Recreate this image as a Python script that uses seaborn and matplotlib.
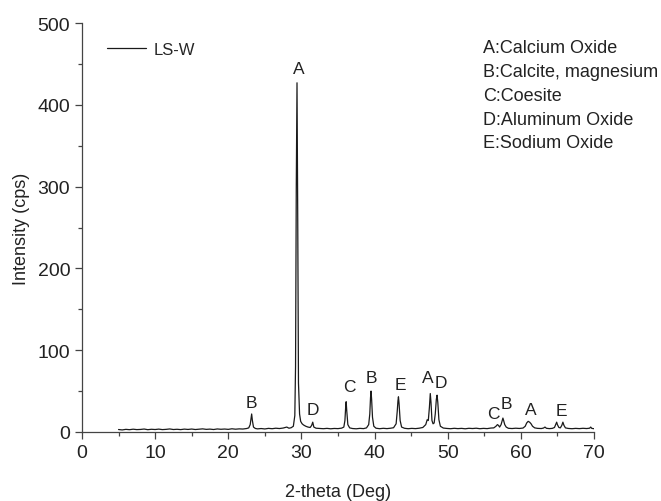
import numpy as np
import pandas as pd
import matplotlib
matplotlib.use("Agg")
import matplotlib.pyplot as plt
import seaborn as sns
from matplotlib.ticker import MultipleLocator

# XRD-профиль LS-W
two_theta = [
    5.0, 5.5, 6.0, 6.5, 7.0, 7.5, 8.0, 8.5, 9.0, 9.5, 10.0, 10.5, 11.0, 11.5, 12.0, 12.5,
    13.0, 13.5, 14.0, 14.5, 15.0, 15.5, 16.0, 16.5, 17.0, 17.5, 18.0, 18.5, 19.0, 19.5,
    20.0, 20.5, 21.0, 21.5, 22.0, 22.5, 22.8, 23.0, 23.1, 23.2, 23.3, 23.45, 23.7, 24.0,
    24.5, 25.0, 25.5, 26.0, 26.5, 27.0, 27.5, 28.0, 28.3, 28.6, 28.9, 29.1, 29.2, 29.3,
    29.4, 29.5, 29.6, 29.75, 29.9, 30.1, 30.3, 30.6, 30.9, 31.2, 31.4, 31.55, 31.7, 32.0,
    32.5, 33.0, 33.5, 34.0, 34.5, 35.0, 35.5, 35.8, 35.95, 36.05, 36.12, 36.2, 36.35, 36.6,
    37.0, 37.5, 38.0, 38.5, 38.9, 39.2, 39.35, 39.45, 39.52, 39.6, 39.72, 39.9, 40.2, 40.7,
    41.2, 41.7, 42.2, 42.6, 42.95, 43.1, 43.2, 43.27, 43.35, 43.5, 43.7, 44.1, 44.6, 45.1,
    45.6, 46.1, 46.6, 47.0, 47.2, 47.35, 47.5, 47.62, 47.72, 47.85, 48.0, 48.15, 48.3, 48.45,
    48.55, 48.65, 48.8, 49.0, 49.4, 49.9, 50.4, 50.9, 51.4, 51.9, 52.4, 52.9, 53.4, 53.9,
    54.4, 54.9, 55.4, 55.9, 56.3, 56.6, 56.8, 56.95, 57.1, 57.3, 57.45, 57.55, 57.65, 57.8,
    58.0, 58.3, 58.8, 59.3, 59.8, 60.3, 60.6, 60.8, 61.0, 61.2, 61.4, 61.6, 61.9, 62.3,
    62.8, 63.1, 63.3, 63.5, 63.9, 64.3, 64.6, 64.8, 64.9, 65.0, 65.2, 65.4, 65.6, 65.75,
    65.9, 66.1, 66.5, 67.0, 67.5, 68.0, 68.5, 69.0, 69.4, 69.55, 69.7, 70.0,
]
intensity = [
    3.0, 2.5, 3.2, 2.8, 3.4, 2.9, 3.1, 3.6, 2.8, 3.3, 3.0, 3.5, 2.9, 3.2, 3.7, 3.0,
    3.3, 2.9, 3.5, 3.1, 3.6, 3.0, 3.4, 3.8, 3.2, 3.5, 3.0, 3.7, 3.3, 3.6,
    3.2, 3.9, 3.4, 3.8, 3.6, 4.2, 5.0, 9.0, 16.0, 22.0, 14.0, 6.0, 4.3, 3.8,
    4.2, 3.7, 4.4, 4.0, 4.6, 4.2, 4.8, 6.0, 4.6, 5.2, 7.0, 20.0, 80.0, 300.0,
    427.0, 260.0, 60.0, 22.0, 13.0, 10.0, 8.5, 7.0, 6.0, 5.5, 8.0, 12.0, 6.0, 4.6,
    4.3, 4.0, 4.4, 3.9, 4.3, 4.1, 4.7, 6.0, 14.0, 30.0, 37.0, 26.0, 9.0, 5.0,
    4.2, 3.9, 4.4, 4.1, 5.0, 9.0, 22.0, 42.0, 50.0, 40.0, 18.0, 7.0, 4.6, 4.0,
    4.5, 4.1, 4.6, 5.2, 10.0, 25.0, 38.0, 43.0, 35.0, 14.0, 6.0, 4.5, 4.0, 4.4,
    4.1, 4.6, 5.5, 9.0, 15.0, 14.0, 30.0, 47.0, 36.0, 14.0, 10.0, 11.0, 22.0, 40.0,
    45.0, 36.0, 15.0, 7.0, 4.8, 4.3, 4.0, 4.5, 4.1, 4.4, 3.9, 4.5, 4.2, 4.6,
    4.0, 4.4, 4.1, 4.8, 5.0, 7.0, 9.0, 8.0, 6.0, 9.0, 14.0, 17.0, 14.0, 9.0,
    6.0, 4.5, 4.2, 4.6, 4.3, 4.8, 7.0, 11.0, 13.0, 12.0, 10.0, 7.0, 5.0, 4.4,
    4.2, 4.8, 6.0, 4.5, 4.1, 4.4, 5.5, 10.0, 12.0, 9.0, 5.5, 5.0, 8.0, 12.0,
    8.0, 5.0, 4.3, 4.0, 4.4, 4.1, 4.5, 4.2, 4.6, 6.0, 4.4, 4.0,
]

# Подписи фаз над пиками
peak_labels = ["B", "A", "D", "C", "B", "E", "A", "D", "C", "B", "A", "E"]
label_x = [23.2, 29.7, 31.6, 36.5, 39.6, 43.6, 47.3, 49.1, 56.3, 58.0, 61.4, 65.5]
label_y = [36, 445, 27, 55, 67, 58, 67, 61, 23, 35, 28, 26]

phase_names = [
    "A:Calcium Oxide",
    "B:Calcite, magnesium",
    "C:Coesite",
    "D:Aluminum Oxide",
    "E:Sodium Oxide",
]

df = pd.DataFrame({"2theta": two_theta, "Intensity": intensity})

sns.set_style("ticks")
plt.rcParams["font.family"] = ["Liberation Sans", "DejaVu Sans"]

fig = plt.figure(figsize=(6.61, 5.02), dpi=100)
ax = fig.add_axes([0.124, 0.1375, 0.7746, 0.8145])

sns.lineplot(data=df, x="2theta", y="Intensity", color="#1a1a1a", linewidth=0.9,
             estimator=None, sort=False, label="LS-W", ax=ax)

for lab, xx, yy in zip(peak_labels, label_x, label_y):
    ax.text(xx, yy, lab, ha="center", va="center", fontsize=12.5, color="#222222")

ax.text(0.783, 0.96, "\n".join(phase_names), transform=ax.transAxes, ha="left", va="top",
        fontsize=13, color="#222222", linespacing=1.52)

ax.set_xlim(0, 70)
ax.set_ylim(0, 500)
ax.xaxis.set_major_locator(MultipleLocator(10))
ax.xaxis.set_minor_locator(MultipleLocator(5))
ax.yaxis.set_major_locator(MultipleLocator(100))
ax.yaxis.set_minor_locator(MultipleLocator(50))
ax.tick_params(which="major", direction="out", length=5, width=0.9, labelsize=14,
               colors="#444444", labelcolor="#222222")
ax.tick_params(which="minor", direction="out", length=3, width=0.9, colors="#444444")
for s in ["left", "bottom"]:
    ax.spines[s].set_color("#444444")
    ax.spines[s].set_linewidth(0.9)
sns.despine(ax=ax)

ax.set_xlabel("2-theta (Deg)", fontsize=13, color="#222222", labelpad=16)
ax.set_ylabel("Intensity (cps)", fontsize=13, color="#222222", labelpad=5)

ax.legend(loc="upper left", bbox_to_anchor=(0.02, 0.99), frameon=False, fontsize=12,
          handlelength=2.3, handletextpad=0.5)

fig.savefig("out.png", dpi=100)
